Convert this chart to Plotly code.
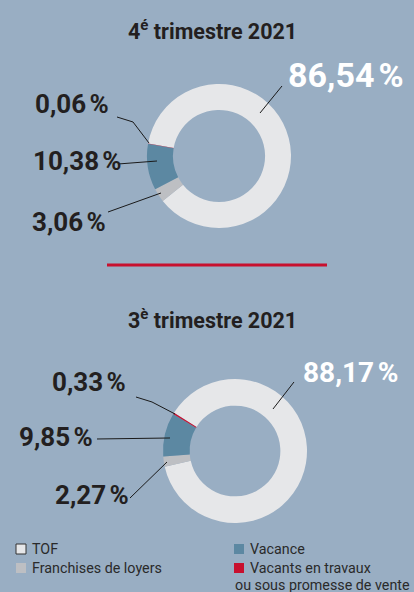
import plotly.graph_objects as go

W, H = 414, 592

categories = ["TOF", "Franchises de loyers", "Vacance", "Vacants en travaux<br>ou sous promesse de vente"]
colors = ["#E6E7E9", "#BDBFC3", "#5C88A2", "#C8102E"]
q4_values = [86.54, 3.06, 10.38, 0.06]
q3_values = [88.17, 2.27, 9.85, 0.33]
q4_labels = ["86,54\u202f%", "3,06\u202f%", "10,38\u202f%", "0,06\u202f%"]
q3_labels = ["88,17\u202f%", "2,27\u202f%", "9,85\u202f%", "0,33\u202f%"]
titles = ["4<sup>é</sup> trimestre 2021", "3<sup>è</sup> trimestre 2021"]

BG = "#99AEC3"
DARK = "#231F20"
FONT = "Roboto"


def px(x, y):
    return x / W, 1 - y / H


def dom(x0, y0, x1, y1):
    return dict(x=[x0 / W, x1 / W], y=[1 - y1 / H, 1 - y0 / H])


fig = go.Figure()
fig.add_trace(go.Pie(
    values=q4_values, labels=categories, sort=False, direction="clockwise",
    rotation=-80, hole=0.64, textinfo="none", hoverinfo="label+percent",
    marker=dict(colors=colors, line=dict(width=0)),
    domain=dom(147, 84, 291, 228), showlegend=False,
))
fig.add_trace(go.Pie(
    values=q3_values, labels=categories, sort=False, direction="clockwise",
    rotation=-58, hole=0.63, textinfo="none", hoverinfo="label+percent",
    marker=dict(colors=colors, line=dict(width=0)),
    domain=dom(163, 379, 307, 523), showlegend=False,
))

ann = []
shapes = []

# titles
for t, (x, y) in zip(titles, [(212, 30), (212, 319)]):
    xx, yy = px(x, y)
    ann.append(dict(text=f"<b>{t}</b>", x=xx, y=yy, xref="paper", yref="paper",
                    showarrow=False, xanchor="center", yanchor="middle",
                    font=dict(family=FONT, size=21.5, color=DARK)))

# separator
x0, y0 = px(107, 265)
x1, _ = px(327, 265)
shapes.append(dict(type="line", xref="paper", yref="paper", x0=x0, x1=x1, y0=y0, y1=y0,
                   line=dict(color="#C8102E", width=3)))

# value labels: (x_left, y_center, color, size)
label_pos_q4 = [(286, 75, "white", 34), (30, 222, DARK, 26), (31, 161, DARK, 26), (33, 104, DARK, 26)]
label_pos_q3 = [(301, 372, "white", 28), (53, 495, DARK, 26), (17, 437, DARK, 26), (50, 382, DARK, 26)]
for labs, poss in [(q4_labels, label_pos_q4), (q3_labels, label_pos_q3)]:
    for t, (x, y, c, s) in zip(labs, poss):
        xx, yy = px(x, y)
        ann.append(dict(text=f"<b>{t}</b>", x=xx, y=yy, xref="paper", yref="paper",
                        showarrow=False, xanchor="left", yanchor="middle",
                        font=dict(family=FONT, size=s, color=c)))

# leader lines
leaders = [
    [(282, 86), (260, 113)],
    [(117, 117), (133, 122), (149, 143)],
    [(118, 164), (157, 161)],
    [(108, 212), (161, 193)],
    [(294, 382), (273, 409)],
    [(136, 397), (152, 402), (175, 414)],
    [(97, 439), (170, 438)],
    [(130, 498), (167, 462)],
]
for pts in leaders:
    path = "M " + " L ".join(f"{px(x, y)[0]:.5f},{px(x, y)[1]:.5f}" for x, y in pts)
    shapes.append(dict(type="path", xref="paper", yref="paper", path=path,
                       line=dict(color="#1a1a1a", width=1)))

# legend (manual, two columns)
leg_pos = [(16, 549), (16, 568), (234, 549), (234, 568)]
LEG_FONT = dict(family=FONT, size=14.3, color="#2a2a2a")
for cat, col, (x, y) in zip(categories, colors, leg_pos):
    a0, b0 = px(x, y - 5)
    a1, b1 = px(x + 10, y + 5)
    shapes.append(dict(type="rect", xref="paper", yref="paper", x0=a0, x1=a1, y0=b1, y1=b0,
                       fillcolor=col,
                       line=dict(color="#333333" if cat == "TOF" else col, width=1 if cat == "TOF" else 0)))
    xx, yy = px(x + 14, y)
    parts = cat.split("<br>")
    ann.append(dict(text=parts[0], x=xx, y=yy, xref="paper", yref="paper", showarrow=False,
                    xanchor="left", yanchor="middle", font=LEG_FONT))
    if len(parts) > 1:
        x2, y2 = px(x - 1, y + 17)
        ann.append(dict(text=parts[1], x=x2, y=y2, xref="paper", yref="paper", showarrow=False,
                        xanchor="left", yanchor="middle", font=LEG_FONT))

fig.update_layout(
    width=W, height=H, margin=dict(l=0, r=0, t=0, b=0),
    paper_bgcolor=BG, plot_bgcolor=BG,
    annotations=ann, shapes=shapes, showlegend=False,
    font=dict(family=FONT),
)

fig.write_html("out.html", config={"displayModeBar": False},
               post_script="document.body.style.margin='0';document.body.style.overflow='hidden';")
